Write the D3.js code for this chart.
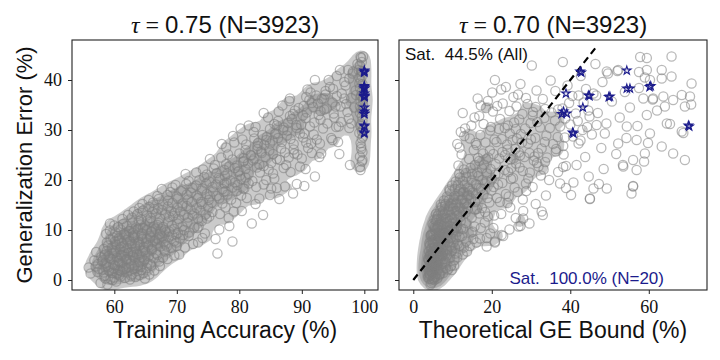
<!DOCTYPE html>
<html>
<head>
<meta charset="utf-8">
<script src="https://cdn.jsdelivr.net/npm/d3@7"></script>
<style>
  body { margin: 0; background: #fff; }
  text { fill: #111; }
</style>
</head>
<body>
<svg id="chart" width="720" height="360"></svg>
<script>
// MARK: Data. Each model is [training accuracy, generalization error, theoretical GE bound], in %.
// The models are split by generalization error band, only to keep each list readable.

const geBelow9 = [
  [57.8,-0.6,4.6],[58.9,-0.9,4.4],[60.3,-0.3,4.9],[59.4,0.2,4.1],[61.7,0.4,5.2],[62.5,0.1,4.8],[58.4,0.8,3.9],[60.8,1.0,4.3],
  [63.4,0.6,5.5],[64.9,0.3,6.1],[56.2,1.3,4.2],[57.3,1.6,4.7],[59.6,1.4,5.0],[61.2,1.7,4.5],[62.9,1.2,5.8],[65.6,1.1,6.6],
  [66.4,1.9,7.2],[58.1,2.1,4.4],[59.9,2.3,3.8],[60.6,2.0,5.3],[61.9,2.4,4.9],[63.1,2.2,6.3],[64.2,2.6,5.4],[57.0,2.7,4.1],
  [58.7,2.8,5.6],[60.1,2.9,4.6],[62.3,2.5,7.1],[63.8,2.9,5.0],[65.2,2.4,8.3],[67.3,2.8,9.6],[55.9,2.5,4.0],[59.2,1.8,6.2],
  [61.0,0.7,5.7],[62.0,1.5,3.9],[60.4,1.2,6.8],[58.6,0.3,5.1],[63.7,1.8,4.4],[64.6,1.4,7.6],[59.0,2.6,4.9],[61.5,2.7,5.5],
  [57.6,2.2,5.9],[62.7,0.9,4.2],[60.0,0.5,3.7],[65.9,2.9,6.0],[58.3,1.5,4.8],[61.4,2.1,8.8],[59.7,0.0,5.4],[63.2,2.9,10.4],
  [64.0,1.0,5.0],[60.9,1.9,4.0],[64.3,2.0,9.8],
  [57.4,3.2,4.3],[58.6,3.4,5.1],[59.8,3.1,4.6],[61.3,3.5,5.8],[62.6,3.3,6.4],[64.1,3.6,5.2],[65.7,3.2,7.3],[67.2,3.7,8.1],
  [56.8,3.9,4.5],[58.2,4.0,3.9],[59.5,4.2,5.5],[60.7,3.8,4.8],[62.0,4.1,6.9],[63.3,4.3,5.1],[64.8,3.9,6.2],[66.3,4.4,9.4],
  [68.5,4.2,7.7],[57.9,4.6,5.0],[59.1,4.8,4.2],[60.4,4.5,6.1],[61.6,4.7,5.3],[62.9,4.9,7.4],[64.4,4.6,4.7],[65.5,4.8,6.6],
  [67.8,4.5,11.2],[69.6,4.9,8.6],[58.5,5.1,5.7],[59.7,5.3,4.4],[61.0,5.0,6.3],[62.2,5.4,5.1],[63.6,5.2,8.2],[65.0,5.5,6.0],
  [66.7,5.3,7.1],[70.4,5.1,12.6],[57.1,5.6,4.9],[58.8,5.8,6.5],[60.2,5.7,4.0],[61.8,5.9,5.6],[63.0,5.6,7.0],[64.6,5.8,9.8],
  [66.0,5.9,5.4],[68.1,5.7,13.7],[76.5,5.3,10.8],[60.9,3.4,7.9],[62.4,3.9,4.1],[59.3,4.4,6.8],[61.9,4.2,3.8],[63.9,5.0,4.6],
  [60.0,5.4,7.6],[58.0,3.7,6.0],[64.0,4.0,10.5],[62.7,5.6,5.0],[59.9,5.9,8.7],[61.2,4.9,4.3],[65.3,3.4,5.9],[63.1,4.6,6.6],
  [60.6,3.0,5.2],[66.9,5.0,4.9],[58.4,4.9,7.2],[61.5,5.6,6.2],
  [58.3,6.2,4.5],[59.6,6.5,5.3],[60.9,6.1,6.0],[62.1,6.4,4.8],[63.4,6.3,7.2],[64.7,6.6,5.6],[66.0,6.2,8.5],[67.4,6.7,6.3],
  [69.1,6.4,10.6],[71.3,6.5,12.9],[59.0,6.9,4.2],[60.3,7.1,5.9],[61.5,6.8,7.6],[62.8,7.2,5.1],[64.1,7.0,6.7],[65.4,6.9,9.3],
  [66.8,7.3,7.0],[68.2,7.1,5.4],[70.0,6.8,14.4],[72.6,7.2,11.3],[58.8,7.5,6.4],[60.1,7.7,4.6],[61.2,7.4,8.0],[62.5,7.8,6.2],
  [63.9,7.6,5.0],[65.1,7.5,10.2],[66.5,7.9,6.8],[67.9,7.6,8.9],[69.6,7.8,7.5],[73.4,7.5,16.1],[78.9,7.7,20.8],[59.4,8.1,5.6],
  [60.7,8.3,7.1],[62.0,8.0,4.9],[63.2,8.4,9.0],[64.5,8.2,6.1],[65.8,8.5,7.7],[67.1,8.1,5.3],[68.7,8.6,11.8],[70.5,8.3,9.5],
  [74.1,8.4,18.7],[60.4,8.8,6.6],[61.8,8.9,5.2],[63.0,8.7,8.3],[64.3,8.9,4.4],[65.7,8.8,12.4],[67.6,8.7,7.9],[69.3,8.9,6.5],
  [71.9,8.8,22.9],[76.2,8.2,15.3],[61.1,6.6,9.7],[63.7,7.4,4.1],[62.3,8.6,10.9],[64.9,6.0,6.9],[66.2,7.7,13.5],[60.8,7.9,7.3],
  [65.2,8.3,5.7],[63.3,6.8,11.7],[68.0,6.0,8.0],[59.8,8.5,8.6],[69.9,7.5,20.8],[68.4,6.7,18.7],[66.8,8.3,17.0]
]

const ge9to21 = [
  [58.7,9.2,5.0],[60.2,9.5,6.4],[61.6,9.1,4.7],[63.0,9.4,7.8],[64.4,9.3,5.9],[65.9,9.6,9.1],[67.3,9.2,6.6],[68.8,9.7,11.4],
  [70.2,9.4,8.2],[72.0,9.5,14.8],[74.5,9.3,19.6],[59.3,9.9,7.0],[61.0,10.1,5.4],[62.4,9.8,8.8],[63.8,10.2,6.0],[65.2,10.0,10.3],
  [66.6,10.3,7.3],[68.1,9.9,5.6],[69.6,10.2,12.7],[71.2,10.0,9.0],[73.3,10.4,17.2],[76.8,10.1,24.5],[60.6,10.6,6.3],[62.0,10.8,9.4],
  [63.5,10.5,5.5],[64.9,10.9,7.9],[66.3,10.7,11.1],[67.8,10.6,8.4],[69.2,10.9,6.2],[70.9,10.7,15.6],[72.8,10.5,10.9],[78.4,10.8,27.3],
  [59.3,11.3,8.0],[61.4,11.2,4.9],[62.9,11.5,10.7],[64.2,11.1,6.8],[65.7,11.6,8.6],[67.1,11.4,13.4],[68.6,11.7,7.2],[70.1,11.3,9.8],
  [71.7,11.5,18.2],[74.0,11.8,12.1],[82.0,11.3,29.6],[63.3,9.0,4.5],[66.0,9.7,15.1],[62.7,10.3,12.2],[65.3,11.9,5.8],[69.9,9.1,7.4],
  [64.6,10.4,20.4],[67.5,10.2,9.7],[60.0,10.9,5.2],[66.9,11.0,6.5],[63.9,11.8,9.2],[68.3,9.6,10.1],[61.9,9.3,7.7],
  [71.0,9.0,22.5],[73.5,10.7,26.8],[74.8,12.3,28.0],[79.1,13.7,32.7],
  [61.3,12.2,6.0],[62.8,12.5,8.3],[64.3,12.1,5.4],[65.8,12.4,9.9],[67.3,12.3,7.1],[68.8,12.6,12.0],[70.3,12.2,8.7],[71.8,12.5,14.9],
  [73.4,12.3,10.4],[75.2,12.7,19.0],[78.3,12.4,26.1],[62.2,13.0,7.6],[63.7,13.2,5.8],[65.2,12.9,11.2],[66.7,13.3,8.0],[68.2,13.1,6.4],
  [69.7,13.4,13.3],[71.2,13.0,9.5],[72.8,13.3,16.8],[74.6,13.1,11.6],[76.9,13.2,22.4],[83.8,13.0,33.0],[63.1,13.7,9.0],[64.6,13.9,6.9],
  [66.1,13.6,12.6],[67.6,14.0,8.9],[69.1,13.8,10.8],[70.6,13.7,7.5],[72.2,14.1,15.7],[73.8,13.9,12.8],[75.7,13.6,18.3],[80.4,13.8,28.0],
  [64.0,14.4,10.1],[65.6,14.6,7.3],[67.0,14.3,13.9],[68.6,14.7,9.3],[70.1,14.5,11.9],[71.6,14.8,8.1],[73.2,14.4,17.5],[75.0,14.6,13.6],
  [77.8,14.5,24.7],[69.4,12.8,6.2],[66.4,14.2,16.2],[72.5,12.9,20.6],[70.9,14.9,10.0],
  [64.5,15.2,8.2],[66.2,15.5,11.0],[67.8,15.1,7.0],[69.3,15.4,13.5],[70.9,15.3,9.6],[72.4,15.6,15.8],[74.0,15.2,10.9],[75.6,15.5,19.4],
  [77.3,15.3,13.0],[79.5,15.4,24.0],[82.6,15.2,31.2],[65.5,16.0,9.1],[67.1,16.2,12.5],[68.6,15.9,7.8],[70.2,16.3,16.4],[71.8,16.1,10.3],
  [73.4,16.4,21.3],[75.1,16.0,12.2],[76.8,16.3,14.7],[78.7,16.1,27.9],[81.2,16.4,18.9],[86.4,16.2,45.0],[66.9,16.8,10.5],[68.5,17.0,14.1],
  [70.0,16.7,8.6],[71.6,17.1,17.9],[73.2,16.9,11.5],[74.8,17.2,23.6],[76.4,16.8,13.8],[78.1,17.1,16.0],[80.3,16.9,33.8],[84.9,17.0,40.2],
  [69.0,17.6,12.8],[70.7,17.8,9.3],[72.3,17.5,15.2],[74.0,17.9,19.9],[75.8,17.7,11.8],[77.5,17.6,26.6],[79.6,17.8,14.4],[88.6,17.3,55.6],
  [83.2,16.3,45.0],[77.8,17.8,28.8],[75.3,16.7,24.3],[73.9,15.6,22.1],
  [67.6,18.2,10.6],[69.3,18.5,13.9],[70.9,18.1,9.2],[72.5,18.4,16.7],[74.1,18.3,12.0],[75.7,18.6,20.5],[77.3,18.2,14.3],[78.9,18.5,25.8],
  [80.6,18.3,17.2],[82.7,18.6,30.4],[86.0,18.4,38.9],[69.8,19.0,11.4],[71.5,19.2,15.9],[73.1,18.9,9.9],[74.7,19.3,18.3],[76.3,19.1,13.1],
  [78.0,19.4,22.7],[79.7,19.0,16.1],[81.5,19.3,28.7],[83.9,19.1,21.6],[89.2,19.2,47.3],[71.9,19.8,12.6],[73.6,20.0,17.6],[75.2,19.7,10.8],
  [76.9,20.1,20.0],[78.6,19.9,14.9],[80.3,20.2,24.9],[82.1,19.8,18.7],[84.3,20.0,34.6],[92.1,20.7,44.7],[74.4,20.6,13.5],[77.7,20.8,16.6],
  [81.0,20.5,11.9],[85.6,20.3,29.3],[90.4,18.8,56.0],[87.3,18.7,56.0],[85.1,18.3,49.3],[80.8,18.3,45.9],[79.3,19.5,40.8],
  [77.6,19.3,37.4],[76.7,20.4,25.4],[80.1,20.9,32.5]
]

const geAbove21 = [
  [71.4,21.2,11.7],[73.1,21.5,16.3],[74.8,21.1,20.9],[76.4,21.4,13.4],[78.1,21.3,18.8],[79.8,21.6,24.2],[81.5,21.2,15.0],[83.3,21.5,29.7],
  [85.4,21.3,21.7],[88.2,21.6,36.9],[74.2,22.1,12.9],[75.9,22.3,17.5],[77.6,22.0,23.3],[79.3,22.4,14.6],[81.0,22.2,19.7],[82.8,22.5,27.1],
  [84.7,22.1,33.2],[87.1,22.4,25.0],[90.6,22.2,48.5],[76.1,23.0,15.7],[77.9,23.2,21.0],[79.6,22.9,11.5],[81.4,23.3,26.2],[83.2,23.1,18.0],
  [85.1,23.4,31.5],[87.5,23.0,41.6],[97.7,23.0,53.4],[99.3,22.6,38.2],[99.6,23.7,58.8],[80.7,23.8,16.8],
  [89.7,22.7,53.5],[99.4,22.0,56.9],[80.6,23.6,33.6],[78.4,22.7,31.9],[82.2,23.9,30.7],[79.9,21.8,27.9],[83.9,22.8,38.9],
  [75.3,24.2,14.2],[77.1,24.5,19.1],[78.9,24.1,24.8],[80.7,24.4,16.5],[82.4,24.3,21.9],[84.2,24.6,28.3],[86.0,24.2,18.6],[87.9,24.5,34.1],
  [90.0,24.3,25.6],[92.8,24.6,43.8],[99.3,24.7,30.9],[78.2,25.1,12.3],[80.0,25.3,17.8],[81.8,25.0,23.4],[83.6,25.4,29.6],[85.4,25.2,20.4],
  [87.3,25.5,26.9],[89.3,25.1,38.3],[91.6,25.4,31.8],[96.0,25.2,51.7],[99.7,25.6,22.7],[81.0,26.0,15.4],[82.9,26.2,26.0],[84.8,25.9,19.5],
  [86.7,26.3,32.7],[88.7,26.1,24.0],[91.0,26.4,47.9],[99.5,26.2,36.4],
  [99.5,26.7,63.3],[93.1,25.3,66.2],[99.7,24.0,69.2],[88.8,25.3,59.0],[86.5,24.0,56.0],[83.5,25.7,36.3],[81.9,24.9,27.2],
  [82.9,26.8,38.2],[77.9,26.5,11.8],
  [77.2,27.2,11.2],[79.2,27.5,18.4],[81.1,27.1,23.9],[83.0,27.4,15.9],[84.9,27.3,29.2],[86.8,27.6,21.2],[88.7,27.2,35.6],[90.7,27.5,27.7],
  [92.9,27.3,42.1],[95.8,27.6,33.5],[99.4,27.4,59.8],[80.5,28.1,20.7],[82.4,28.3,14.4],[84.3,28.0,25.3],[86.2,28.4,31.1],[88.2,28.2,22.5],
  [90.2,28.5,38.6],[92.4,28.1,30.0],[94.7,28.4,54.3],[99.6,28.3,26.4],[83.7,29.0,17.1],[85.7,29.2,27.4],[87.6,28.9,33.9],[89.7,29.3,24.6],
  [91.9,29.1,45.5],[99.2,29.4,68.8],[99.8,28.7,40.7],
  [99.6,29.7,68.4],[90.4,29.3,60.3],[94.9,28.0,56.9],[91.5,27.3,52.2],[85.9,29.3,48.8],[84.4,28.6,36.8],[85.3,27.9,42.6],
  [87.7,29.9,19.6],[84.0,27.0,16.1],[79.0,28.8,13.0],[82.3,29.6,12.1],
  [80.2,30.3,13.2],[82.6,30.6,19.8],[84.9,30.2,26.1],[87.1,30.5,32.3],[89.2,30.4,23.3],[91.3,30.7,37.4],[93.4,30.3,28.5],[95.5,30.6,44.3],
  [97.6,30.4,34.8],[99.4,30.8,57.1],[99.8,30.2,21.8],[85.6,31.2,17.9],[87.8,31.4,29.9],[89.9,31.1,40.0],[92.0,31.5,25.7],[94.1,31.3,49.2],
  [96.3,31.6,31.6],[99.5,31.2,65.4],[99.7,31.9,36.1],[88.4,32.2,22.1],[90.6,32.4,33.4],[93.0,32.1,27.0],[95.2,32.5,52.6],[97.5,32.3,38.7],
  [99.6,32.7,44.9],
  [95.9,30.7,54.4],[97.9,31.3,64.6],[86.2,31.8,41.9],[87.0,30.0,43.1],[90.2,32.9,30.4],[89.1,31.0,46.7],[86.0,30.9,24.1],
  [88.1,32.8,16.8],[81.5,30.9,14.8],[84.6,32.5,15.6],
  [83.9,33.4,12.6],[86.3,33.7,20.3],[88.6,33.2,27.8],[90.8,33.5,35.2],[93.0,33.8,24.5],[95.1,33.3,41.4],[97.3,33.6,30.5],[99.3,33.4,47.0],
  [99.7,33.9,62.1],[89.5,34.4,18.5],[91.8,34.6,31.2],[94.0,34.3,38.0],[96.2,34.7,26.3],[98.4,34.5,55.2],[99.5,34.2,33.6],[92.6,35.3,22.8],
  [94.9,35.5,43.4],[97.1,35.2,29.1],[99.4,35.7,50.6],[99.8,35.1,70.8],
  [92.7,33.0,59.5],[95.4,34.7,64.1],[99.3,34.7,69.2],[88.9,33.9,44.6],[91.6,35.4,39.7],[93.6,34.1,36.9],[90.3,34.8,21.4],
  [86.9,34.9,17.2],[88.0,35.8,19.0],
  [88.1,36.3,16.4],[90.7,36.6,25.5],[93.2,36.2,33.0],[95.6,36.8,40.5],[97.9,36.4,28.7],[99.5,36.9,46.6],[99.8,36.1,61.0],[91.4,37.5,20.1],
  [93.8,37.8,36.2],[96.4,37.3,45.9],[98.6,37.9,31.4],[99.6,37.6,53.9],[94.5,38.6,23.6],[97.0,38.9,39.3],[99.3,38.4,57.5],[99.7,39.2,27.3],
  [96.8,39.6,48.2],[99.4,39.9,35.0],
  [93.5,36.3,58.6],[96.8,36.3,61.1],[99.5,36.7,63.7],[91.2,36.0,66.2],[98.7,37.0,68.4],[99.8,36.7,70.5],[99.2,39.3,70.9],
  [92.3,36.9,42.1],[95.0,38.2,44.0],[93.8,37.1,26.7],[90.9,38.1,22.4],
  [92.1,40.0,20.8],[95.6,40.8,42.7],[98.1,41.3,49.6],[99.5,41.8,52.0],[99.2,40.5,59.0],[99.7,41.6,57.5],[97.4,42.0,63.3],[99.3,42.9,30.2],
  [99.6,43.6,38.1],[99.4,44.6,57.8],[99.5,44.4,59.5],[99.8,44.7,65.8],[98.9,43.2,46.4],
  [98.2,41.7,49.3],[96.1,42.0,52.2],[99.1,42.0,59.5],[94.3,40.0,60.3],[97.6,40.3,63.3],[99.6,40.7,65.8]
]

// The N=20 highlighted models (stars), all of them trained to ~100% accuracy.
const starModels = [
  [100,41.7,42.5],[100,41.9,54.4],[100,41.5,42.8],[100,38.8,60.5],[100,38.6,60.2],[100,38.3,54.4],[100,38.3,55.2],
  [100,37.3,38.9],[100,36.9,44.6],[100,36.8,44.9],[100,36.7,50.1],[100,36.6,49.8],[100,34.5,43.2],[100,33.7,38.3],
  [100,33.2,37.8],[100,33.3,39.1],[100,30.7,70.3],[100,30.9,70.1],[100,29.3,40.8],[100,29.5,40.6]
]

const accTicks    = [60, 70, 80, 90, 100]
const boundTicks  = [0, 20, 40, 60]
const geTicks     = [0, 10, 20, 30, 40]
const taus        = ['0.75', '0.70']
const totalN      = 3923
const satAll      = '44.5%'
const satStars    = '100.0%'
const identityEnd = 47

const models = geBelow9.concat(ge9to21, geAbove21)

// MARK: Layout.

const svg = d3.select('#chart')
const TOP = 40, BOTTOM = 290
const RING  = '#808080'
const NAVY  = '#1b1b8c'
const SANS  = '"Liberation Sans", Arial, sans-serif'
const SERIF = '"Liberation Serif", "DejaVu Serif", serif'
const NBSP  = '\u00a0'

const y = d3.scaleLinear().domain([-2, 48]).range([BOTTOM, TOP])

// `levels` are the point densities (points per square pixel) shaded as a solid mass under the rings.
const panels = [
  { left: 72,  right: 378, domain: [53.23, 102.19], ticks: accTicks,   col: 0,
    label: 'Training Accuracy (%)',    tau: taus[0], levels: [0.008, 0.02, 0.04] },
  { left: 399, right: 707, domain: [-3.64, 74.83],  ticks: boundTicks, col: 2,
    label: 'Theoretical GE Bound (%)', tau: taus[1], levels: [0.012, 0.022, 0.042] },
]

const defs = svg.append('defs')

panels.forEach((p, i) => {
  const x  = d3.scaleLinear().domain(p.domain).range([p.left, p.right])
  const g  = svg.append('g')
  const cx = (p.left + p.right) / 2

  defs.append('clipPath').attr('id', 'clip' + i)
    .append('rect')
    .attr('x', p.left).attr('y', TOP)
    .attr('width', p.right - p.left).attr('height', BOTTOM - TOP)

  const plot = g.append('g').attr('clip-path', `url(#clip${i})`)

  // Where the rings pile up they read as a solid grey mass: fill the densest contours.
  const contours = d3.contourDensity()
    .x((d) => x(d[p.col]))
    .y((d) => y(d[1]))
    .size([720, 360])
    .bandwidth(5)
    .thresholds(p.levels)(models)
  plot.append('g').selectAll('path')
    .data(contours).enter()
    .append('path')
    .attr('d', d3.geoPath())
    .attr('fill', RING)
    .attr('fill-opacity', 0.42)

  plot.append('g').selectAll('circle')
    .data(models).enter()
    .append('circle')
    .attr('cx', (d) => x(d[p.col]))
    .attr('cy', (d) => y(d[1]))
    .attr('r', 4.6)
    .attr('fill', 'none')
    .attr('stroke', RING)
    .attr('stroke-opacity', 0.55)
    .attr('stroke-width', 1.3)

  if (i === 1) {
    plot.append('line')
      .attr('x1', x(0)).attr('y1', y(0))
      .attr('x2', x(identityEnd)).attr('y2', y(identityEnd))
      .attr('stroke', '#000')
      .attr('stroke-width', 2.2)
      .attr('stroke-dasharray', '7,4.5')
  }

  g.append('g').selectAll('path')
    .data(starModels).enter()
    .append('path')
    .attr('d', d3.symbol(d3.symbolStar, 22))
    .attr('transform', (d) => `translate(${x(d[p.col])},${y(d[1])})`)
    .attr('fill', NAVY)
    .attr('fill-opacity', 0.12)
    .attr('stroke', NAVY)
    .attr('stroke-width', 1.1)

  // Frame and axes.
  g.append('rect')
    .attr('x', p.left).attr('y', TOP)
    .attr('width', p.right - p.left).attr('height', BOTTOM - TOP)
    .attr('fill', 'none').attr('stroke', '#222').attr('stroke-width', 1.1)

  const xAxis = g.append('g')
    .attr('transform', `translate(0,${BOTTOM})`)
    .call(d3.axisBottom(x).tickValues(p.ticks).tickSize(4).tickPadding(6))
  const yAxis = g.append('g')
    .attr('transform', `translate(${p.left},0)`)
    .call(d3.axisLeft(y).tickValues(geTicks).tickSize(4).tickPadding(6)
      .tickFormat(i === 0 ? d3.format('d') : () => ''))
  for (const ax of [xAxis, yAxis]) {
    ax.select('.domain').remove()
    ax.selectAll('line').attr('stroke', '#222')
    ax.selectAll('text').attr('font-family', SERIF).attr('font-size', 18).attr('fill', '#111')
  }

  // Title: tau = value (N=...)
  const title = g.append('text')
    .attr('x', cx).attr('y', 33)
    .attr('text-anchor', 'middle')
    .attr('font-size', 24)
  title.append('tspan').attr('font-family', SERIF).attr('font-style', 'italic').text('τ')
  title.append('tspan').attr('font-family', SERIF).text(`${NBSP}=${NBSP}`)
  title.append('tspan').attr('font-family', SANS).text(`${p.tau} (N=${totalN})`)

  g.append('text')
    .attr('x', cx).attr('y', 338)
    .attr('text-anchor', 'middle')
    .attr('font-family', SANS).attr('font-size', 23)
    .text(p.label)
})

svg.append('text')
  .attr('transform', 'translate(32,165) rotate(-90)')
  .attr('text-anchor', 'middle')
  .attr('font-family', SANS).attr('font-size', 22)
  .text('Generalization Error (%)')

svg.append('text')
  .attr('x', 405).attr('y', 60)
  .attr('font-family', SANS).attr('font-size', 17)
  .text(`Sat.${NBSP}${NBSP}${satAll} (All)`)

svg.append('text')
  .attr('x', 664).attr('y', 284)
  .attr('text-anchor', 'end')
  .attr('font-family', SANS).attr('font-size', 17)
  .style('fill', NAVY)
  .text(`Sat.${NBSP}${NBSP}${satStars} (N=${starModels.length})`)
</script>
</body>
</html>
